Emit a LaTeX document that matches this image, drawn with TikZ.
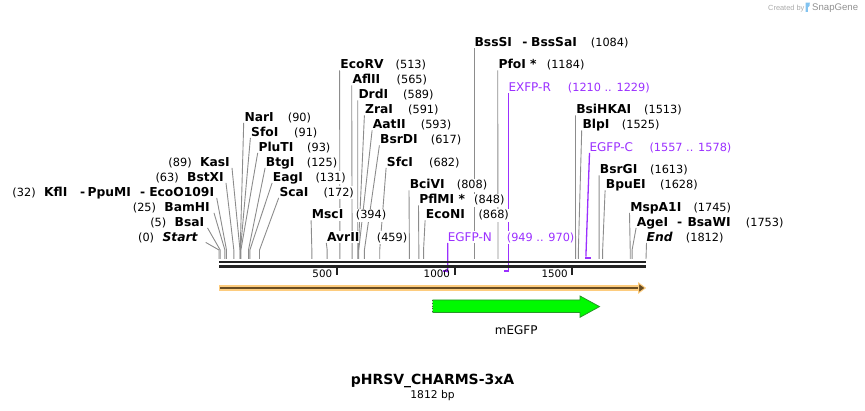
\documentclass[tikz,border=0pt]{standalone}
\usepackage{fontspec}
\setmainfont{DejaVu Sans}
\newfontfamily\lsans{Liberation Sans}
\pgfdeclarelayer{bg}
\pgfsetlayers{bg,main}
\definecolor{sitegray}{RGB}{140,140,140}
\definecolor{primer}{RGB}{155,48,255}
\definecolor{barblack}{RGB}{34,34,34}
\definecolor{orlight}{RGB}{253,204,126}
\definecolor{ordark}{RGB}{104,76,34}
\definecolor{gfill}{RGB}{0,250,0}
\definecolor{gline}{RGB}{40,150,40}
\definecolor{logogray}{RGB}{170,170,170}
\definecolor{logoblue}{RGB}{130,195,240}
\tikzset{
  enz/.style={font=\fontsize{12.3}{14}\selectfont\bfseries, anchor=base west, inner xsep=0pt, inner ysep=1.5pt, fill=white},
  num/.style={font=\fontsize{11.3}{13}\selectfont, anchor=base west, inner xsep=0pt, inner ysep=1.5pt, fill=white},
  prim/.style={font=\fontsize{12}{14}\selectfont, text=primer, anchor=base west, inner xsep=0pt, inner ysep=1.5pt, fill=white},
  primnum/.style={num, text=primer},
  siteline/.style={draw=sitegray, line width=0.9pt},
  primline/.style={draw=primer, line width=1.3pt},
  primmark/.style={draw=primer, line width=2pt},
  barline/.style={draw=barblack, line width=2.3pt},
  tickline/.style={draw=barblack, line width=2pt},
  ticklab/.style={font=\fontsize{10.3}{12}\selectfont, anchor=base east, inner sep=0pt},
}
\begin{document}
\begin{tikzpicture}[x=1pt,y=-1pt]
\path[use as bounding box] (0,0) rectangle (865,411);

% ---------- right-hand enzyme labels ----------
\foreach \id/\lx/\ly/\nm/\nx/\num/\pos in {
  NarI/244.3/117/NarI/287.7/90/90,
  SfoI/251/132/SfoI/294/91/91,
  PluTI/258.3/147/PluTI/307/93/93,
  BtgI/265.7/162/BtgI/306.7/125/125,
  EagI/272.7/177/EagI/315.3/131/131,
  ScaI/279.3/192/ScaI/323.3/172/172,
  MscI/311.7/214.5/MscI/355.7/394/394,
  AvrII/326.9/237/AvrII/376.7/459/459,
  EcoRV/340.2/64.5/EcoRV/395.5/513/513,
  AflII/352.3/79.5/AflII/396.5/565/565,
  DrdI/358.3/94.5/DrdI/403/589/589,
  ZraI/365/109.5/ZraI/408/591/591,
  AatII/372.7/124.5/AatII/420.7/593/593,
  BsrDI/380/139.5/BsrDI/430.7/617/617,
  SfcI/386.7/162/SfcI/429/682/682,
  BciVI/409.6/184.5/BciVI/456.7/808/808,
  PflMI/419.1/199.5/PflMI */474/848/848,
  EcoNI/425.7/214.5/EcoNI/478.3/868/868,
  PfoI/498.3/64.5/PfoI */546.7/1184/1184,
  BsiHKAI/576.1/109.5/BsiHKAI/644/1513/1513,
  BlpI/582.3/124.5/BlpI/621.7/1525/1525,
  BsrGI/599.7/169.5/BsrGI/650/1613/1613,
  BpuEI/605.7/184.5/BpuEI/660/1628/1628,
  MspA1I/630.1/207/MspA1I/693.3/1745/1745}
{
  \pgfmathsetmacro\sx{219+\pos*0.235651}
  \node[enz] (n\id) at (\lx,\ly+4.4) {\nm};
  \node[num] (c\id) at (\nx,\ly+4.4) {(\num)};
  \coordinate (s\id) at (\sx,259);
  \begin{pgfonlayer}{bg}
    \draw[siteline] ([shift={(-0.6,1.5)}]n\id.base west) -- (\sx,250) -- (s\id);
  \end{pgfonlayer}
}

% ---------- left-hand enzyme labels (right aligned) ----------
\foreach \id/\num/\rx/\nm/\ly/\pos/\dx in {
  KasI/89/230/KasI/162/89/2,
  BstXI/63/224/BstXI/177/63/2,
  BamHI/25/210/BamHI/207/25/4,
  BsaI/5/204.5/BsaI/222/5/3}
{
  \pgfmathsetmacro\sx{219+\pos*0.235651}
  \node[enz, anchor=base east] (n\id) at (\rx,\ly+4.4) {\nm};
  \node[num, anchor=base east] (c\id) at ([xshift=-8pt]n\id.base west) {(\num)};
  \coordinate (s\id) at (\sx,259);
  \begin{pgfonlayer}{bg}
    \draw[siteline] ([shift={(\dx,1.5)}]n\id.base east) -- (\sx,250) -- (s\id);
  \end{pgfonlayer}
}

% KflI - PpuMI - EcoO109I (32)
\node[num] (cKflI) at (12.3,196.4) {(32)};
\node[enz] (nKflI) at (44,196.4) {KflI};
\node[enz] (dKflIa) at (80,196.4) {-};
\node[enz] (nPpuMI) at (87.3,196.4) {PpuMI};
\node[enz] (dKflIb) at (140,196.4) {-};
\node[enz, anchor=base east] (nEcoO) at (214.3,196.4) {EcoO109I};
\coordinate (sKflI) at (226.5,259);
\begin{pgfonlayer}{bg}
  \draw[siteline] ([shift={(2.4,1.5)}]nEcoO.base east) -- (226.5,250) -- (sKflI);
\end{pgfonlayer}

% Start (0)
\node[enz, anchor=base east, font=\fontsize{12.3}{14}\selectfont\bfseries\itshape] (nStart) at (197.7,241.4) {Start};
\node[num, anchor=base east] (cStart) at ([xshift=-8pt]nStart.base west) {(0)};
\coordinate (sStart) at (219,259);
\begin{pgfonlayer}{bg}
  \draw[siteline] ([shift={(8,1)}]nStart.base east) -- (219,250) -- (sStart);
\end{pgfonlayer}

% BssSI - BssSaI (1084)
\node[enz] (nBssSI) at (474.4,46.9) {BssSI};
\node[enz] (dBssSI) at (522.2,46.9) {-};
\node[enz] (nBssSaI) at (531,46.9) {BssSaI};
\node[num] (cBssSI) at (590.7,46.9) {(1084)};
\coordinate (sBssSI) at (474.4,259);
\begin{pgfonlayer}{bg}
  \draw[siteline] ([shift={(0,1.5)}]nBssSI.base west) -- (sBssSI);
\end{pgfonlayer}

% AgeI - BsaWI (1753)
\node[enz] (nAgeI) at (636.7,226.4) {AgeI};
\node[enz] (dAgeI) at (677,226.4) {-};
\node[enz] (nBsaWI) at (687.3,226.4) {BsaWI};
\node[num] (cAgeI) at (745.7,226.4) {(1753)};
\coordinate (sAgeI) at (632.1,259);
\begin{pgfonlayer}{bg}
  \draw[siteline] ([shift={(-0.6,1.5)}]nAgeI.base west) -- (632.1,250) -- (sAgeI);
\end{pgfonlayer}

% End (1812)
\node[enz, font=\fontsize{12.3}{14}\selectfont\bfseries\itshape] (nEnd) at (646.5,241.4) {End};
\node[num] (cEnd) at (685.7,241.4) {(1812)};
\coordinate (sEnd) at (646,259);
\begin{pgfonlayer}{bg}
  \draw[siteline] ([shift={(0,1.5)}]nEnd.base west) -- (sEnd);
\end{pgfonlayer}

% ---------- primers ----------
\node[prim] (pR) at (508.3,91.4) {EXFP-R};
\node[primnum] (pRn) at (567.7,91.4) {(1210 .. 1229)};
\coordinate (mR) at (508.6,272.5);
\node[prim] (pN) at (447.6,241.4) {EGFP-N};
\node[primnum] (pNn) at (506.7,241.4) {(949 .. 970)};
\coordinate (mN) at (447.6,272.5);
\node[prim] (pC) at (589.3,151.4) {EGFP-C};
\node[primnum] (pCn) at (649.3,151.4) {(1557 .. 1578)};
\coordinate (mC) at (585.9,256.6);
\begin{pgfonlayer}{bg}
  \draw[primline] ([shift={(0.3,1.5)}]pR.base west) -- (mR);
  \draw[primline] ([shift={(0.2,1.5)}]pN.base west) -- (mN);
  \draw[primline] ([shift={(0.2,1.5)}]pC.base west) -- (mC);
\end{pgfonlayer}
\draw[primmark] (504.2,271.5) -- (509.2,271.5);
\draw[primmark] (442.7,271.5) -- (448.2,271.5);
\draw[primmark] (585.3,257.6) -- (590.8,257.6);

% ---------- sequence bar ----------
\draw[barline] (219,262.2) -- (646,262.2);
\draw[barline] (219,266.5) -- (646,266.5);
\foreach \t in {500,1000,1500}{
  \pgfmathsetmacro\tx{219+\t*0.235651}
  \draw[tickline] (\tx,266.5) -- (\tx,275);
  \node[ticklab] (t\t) at (\tx-4.5,277.8) {\t};
}

% ---------- orange feature ----------
\fill[orlight] (218.5,284.8) rectangle (640,291.2);
\fill[ordark] (220,287) rectangle (640,289);
\filldraw[fill=ordark, draw=orlight, line width=1pt, line join=miter] (638.5,283) -- (645.3,288) -- (638.5,293) -- cycle;

% ---------- mEGFP feature ----------
\fill[gfill] (432.5,300) -- (580,300) -- (580,296) -- (599.5,306.6) -- (580,317.3) -- (580,312.5) -- (432.5,312.5) -- cycle;
\draw[gline, line width=0.8pt] (432.5,300) -- (580,300) -- (580,296) -- (599.5,306.6) -- (580,317.3) -- (580,312.5) -- (432.5,312.5);
\draw[black!70, dotted, line width=0.8pt] (432.5,300) -- (432.5,312.5);
\node[font=\fontsize{12}{14}\selectfont, anchor=base, inner sep=0pt] (fEGFP) at (516.2,335) {mEGFP};

% ---------- title ----------
\node[font=\fontsize{14}{16}\selectfont\bfseries, anchor=base, inner sep=0pt] (title) at (432.5,385) {pHRSV\_CHARMS-3xA};
\node[font=\fontsize{10.7}{13}\selectfont, anchor=base, inner sep=0pt] (bp) at (432.5,399) {1812 bp};

% ---------- logo ----------
\node[font=\lsans\fontsize{7.4}{9}\selectfont, text=logogray, anchor=base west, inner sep=0pt] (cby) at (768,10.2) {Created by};
\fill[logoblue] (805.6,2.6) -- (809.8,2.6) .. controls (810.6,5) and (809,6.8) .. (807.8,7.6) -- (807.8,12) -- (805.6,12) -- cycle;
\node[font=\lsans\fontsize{9.6}{11}\selectfont, text=logogray!85!black, anchor=base west, inner sep=0pt] (sgene) at (812,10.8) {SnapGene};
\end{tikzpicture}
\end{document}
